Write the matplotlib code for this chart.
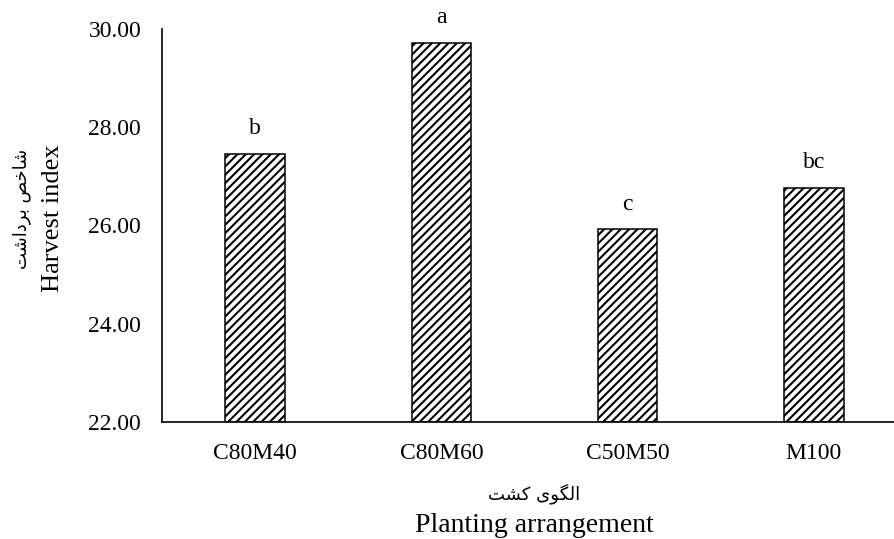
import numpy as np
import matplotlib.pyplot as plt

# data
categories = ['C80M40', 'C80M60', 'C50M50', 'M100']
harvest_index = [27.46, 29.72, 25.92, 26.77]
letters = ['b', 'a', 'c', 'bc']
yticks = [22, 24, 26, 28, 30]


def shape_rtl(forms):
    # forms are already in presentation form (logical order); flip for LTR drawing
    return ''.join(reversed(forms))


# شاخص برداشت
fa_ylabel = shape_rtl('\uFEB7\uFE8E\uFEA7\uFEBA' + ' ' + '\uFE91\uFEAE\uFEA9\uFE8D\uFEB7\uFE96')
# الگوی کشت
fa_xlabel = shape_rtl('\uFE8D\uFEDF\uFB95\uFEEE\uFBFC' + ' ' + '\uFB90\uFEB8\uFE96')

plt.rcParams['font.family'] = ['Liberation Serif', 'DejaVu Serif']
plt.rcParams['hatch.linewidth'] = 1.5

fig = plt.figure(figsize=(8.94, 5.39), dpi=100)
ax = fig.add_axes([0.1812, 0.2171, 0.8333, 0.7291])

x = np.arange(len(categories))
bars = ax.bar(x, np.array(harvest_index) - 22, bottom=22, width=0.32,
              color='white', edgecolor='black', linewidth=1.1, hatch='////')

for xi, v, lab in zip(x, harvest_index, letters):
    ax.text(xi, v + 0.3, lab, ha='center', va='bottom', fontsize=17)

ax.set_xlim(-0.5, 3.5)
ax.set_ylim(22, 30)
ax.set_yticks(yticks)
ax.set_yticklabels(['%.2f' % t for t in yticks])
ax.set_xticks(x)
ax.set_xticklabels(categories)
ax.tick_params(axis='both', length=0, labelsize=17, pad=15)

for s in ['top', 'right']:
    ax.spines[s].set_visible(False)
for s in ['left', 'bottom']:
    ax.spines[s].set_linewidth(1.2)

# axis titles
cx = 0.1812 + 0.8333 / 2
fig.text(cx, 1 - 494 / 539, fa_xlabel, ha='center', va='center', fontsize=13, family='DejaVu Sans')
fig.text(cx, 1 - 525 / 539, 'Planting arrangement', ha='center', va='center', fontsize=20)
fig.text(22 / 894, 1 - 209 / 539, fa_ylabel, ha='center', va='center', rotation=90, fontsize=13, family='DejaVu Sans')
fig.text(53 / 894, 1 - 218 / 539, 'Harvest index', ha='center', va='center', rotation=90, fontsize=19)

fig.savefig('out.png', dpi=100)
